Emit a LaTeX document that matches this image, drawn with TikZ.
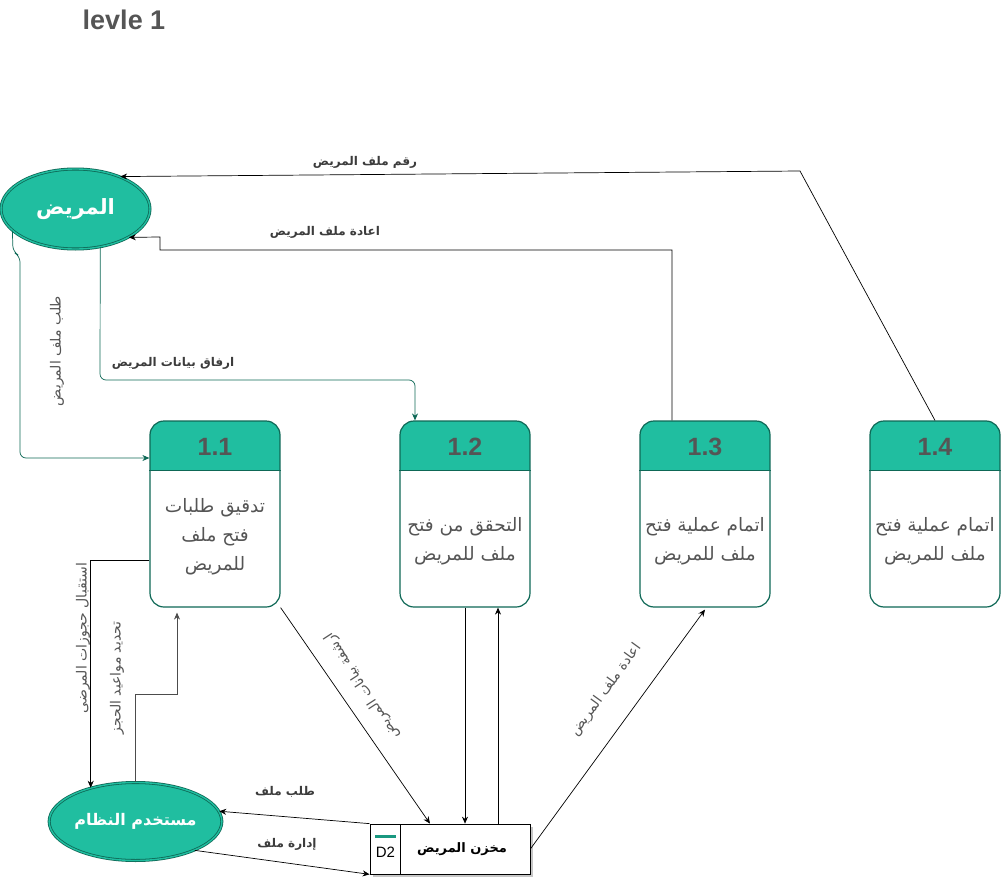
\documentclass[tikz,border=0pt]{standalone}
\usepackage{fontspec}
\setmainfont{Liberation Sans}
\newfontfamily\arfont[Script=Arabic]{DejaVu Sans}
\TeXXeTstate=1
\usetikzlibrary{arrows.meta,shapes.geometric,shadows}
\newcommand\AR[1]{{\arfont\beginR #1\endR}}
\definecolor{tealf}{RGB}{32,190,160}
\definecolor{tealb}{RGB}{14,104,86}
\definecolor{txtg}{RGB}{85,85,85}
\definecolor{txtd}{RGB}{60,60,60}
\begin{document}
\begin{tikzpicture}[x=1pt,y=-1pt,
  ell/.style={ellipse, draw=tealb, line width=0.8pt, double=tealf, double distance=1.4pt, fill=tealf, inner sep=0pt, text=white, font=\bfseries},
  proc/.style={draw=tealb, line width=1.2pt, rounded corners=14pt, minimum width=130pt, minimum height=186pt, inner sep=0pt, fill=white,
    path picture={\fill[tealf, sharp corners] (path picture bounding box.north west) rectangle ([yshift=-50pt]path picture bounding box.north east);}},
  pnum/.style={font=\fontsize{25}{28}\selectfont\bfseries, text=txtg},
  ptxt/.style={font=\fontsize{18.5}{29}\selectfont, text=txtg, align=center},
  lab/.style={font=\fontsize{12}{14}\selectfont\bfseries, text=txtd, inner sep=1pt},
  rlab/.style={font=\fontsize{14}{16}\selectfont, text=txtg, inner sep=1pt},
  arr/.style={-{Stealth[length=7pt,width=6pt]}, line width=0.7pt, black},
  garr/.style={-{Stealth[length=7pt,width=6pt]}, line width=0.7pt, tealb, rounded corners=6pt},
]
\useasboundingbox (0,0) rectangle (1002,883);

% title
\node[font=\fontsize{27}{30}\selectfont\bfseries, text=txtg] (title) at (124,20) {levle 1};

% external entities
\node[ell, minimum width=149pt, minimum height=80pt, font=\fontsize{21}{24}\selectfont\bfseries] (pat) at (75.5,209) {\AR{المريض}};
\node[ell, minimum width=150pt, minimum height=78pt, font=\fontsize{16}{19}\selectfont\bfseries] (usr) at (135.5,821.5) {\AR{مستخدم النظام}};

% processes
\foreach \n/\x in {1/215,2/465,3/705,4/935}{
  \node[proc] (p\n) at (\x,514) {};
  \draw[tealb, line width=1.2pt] ([yshift=-50pt]p\n.north west) -- ([yshift=-50pt]p\n.north east);
  \node[pnum] (n\n) at (\x,447) {1.\n};
}
\node[ptxt] (t1) at (215,537) {\AR{تدقيق طلبات}\\\AR{فتح ملف}\\\AR{للمريض}};
\node[ptxt] (t2) at (465,541) {\AR{التحقق من فتح}\\\AR{ملف للمريض}};
\node[ptxt] (t3) at (705,541) {\AR{اتمام عملية فتح}\\\AR{ملف للمريض}};
\node[ptxt] (t4) at (935,541) {\AR{اتمام عملية فتح}\\\AR{ملف للمريض}};

% data store
\node[draw=black, line width=0.7pt, fill=white, minimum width=160pt, minimum height=50pt, inner sep=0pt,
  drop shadow={shadow xshift=3pt, shadow yshift=-3pt, fill=gray!45, opacity=1}] (ds) at (450,849) {};
\draw[line width=0.7pt] (400,824) -- (400,874);
\fill[tealf!80!black] (375,835) rectangle (396,838);
\node[font=\fontsize{15}{17}\selectfont, text=black, inner sep=0pt] (d2) at (385.5,852) {D2};
\node[font=\fontsize{13}{15}\selectfont\bfseries, text=black] (dsl) at (462,849) {\AR{مخزن المريض}};

% connectors
\coordinate (k1) at (800,171);
\draw[arr] (p4.north) -- (k1) -- (pat.36);
\node[lab] (l1) at (365,162) {\AR{رقم ملف المريض}};

\draw[arr] ([xshift=-33pt]p3.north) -- (672,250) -- (160,250) -- (160,237) -- (pat.-28);
\node[lab] (l2) at (325,232) {\AR{اعادة ملف المريض}};

\draw[garr] (pat.199) -- (13,252) -- (20,256) -- (20,458) -- (p1.west |- 0,458);
\node[rlab, rotate=90] (l3) at (57,351) {\AR{طلب ملف المريض}};

\draw[garr] (pat.-57) -- (100,380) -- (415,380) -- ([xshift=-50pt]p2.north);
\node[lab] (l4) at (173,363) {\AR{ارفاق بيانات المريض}};

\draw[arr] ([yshift=-46pt]p1.west) -| (usr.143);
\node[rlab, rotate=90] (l5) at (83,638) {\AR{استقبال حجوزات المرضى}};

\draw[arr, draw=black!70] (usr.north) -- (135.5,694) -- (177,694) -- ([xshift=-38pt,yshift=-5pt]p1.south);
\node[rlab, rotate=90] (l6) at (117,678) {\AR{تحديد مواعيد الحجز}};

\draw[arr] (p1.south east) -- ([xshift=-20pt]ds.north);
\node[rlab, rotate=123] (l7) at (362,686) {\AR{ارشفة بيانات المريض}};

\draw[arr] (p2.south) -- (p2.south |- ds.north);
\draw[arr] ([xshift=48pt]ds.north) -- ([xshift=33pt]p2.south);

\draw[arr] (ds.east) -- ([yshift=-2pt]p3.south);
\node[rlab, rotate=54] (l9) at (606,690) {\AR{اعادة ملف المريض}};

\draw[arr] (ds.north west) -- (usr.7);
\node[lab] (l10) at (285,792) {\AR{طلب ملف}};

\draw[arr] (usr.-26) -- (ds.south west);
\node[lab] (l11) at (287,844) {\AR{إدارة ملف}};
\end{tikzpicture}
\end{document}
